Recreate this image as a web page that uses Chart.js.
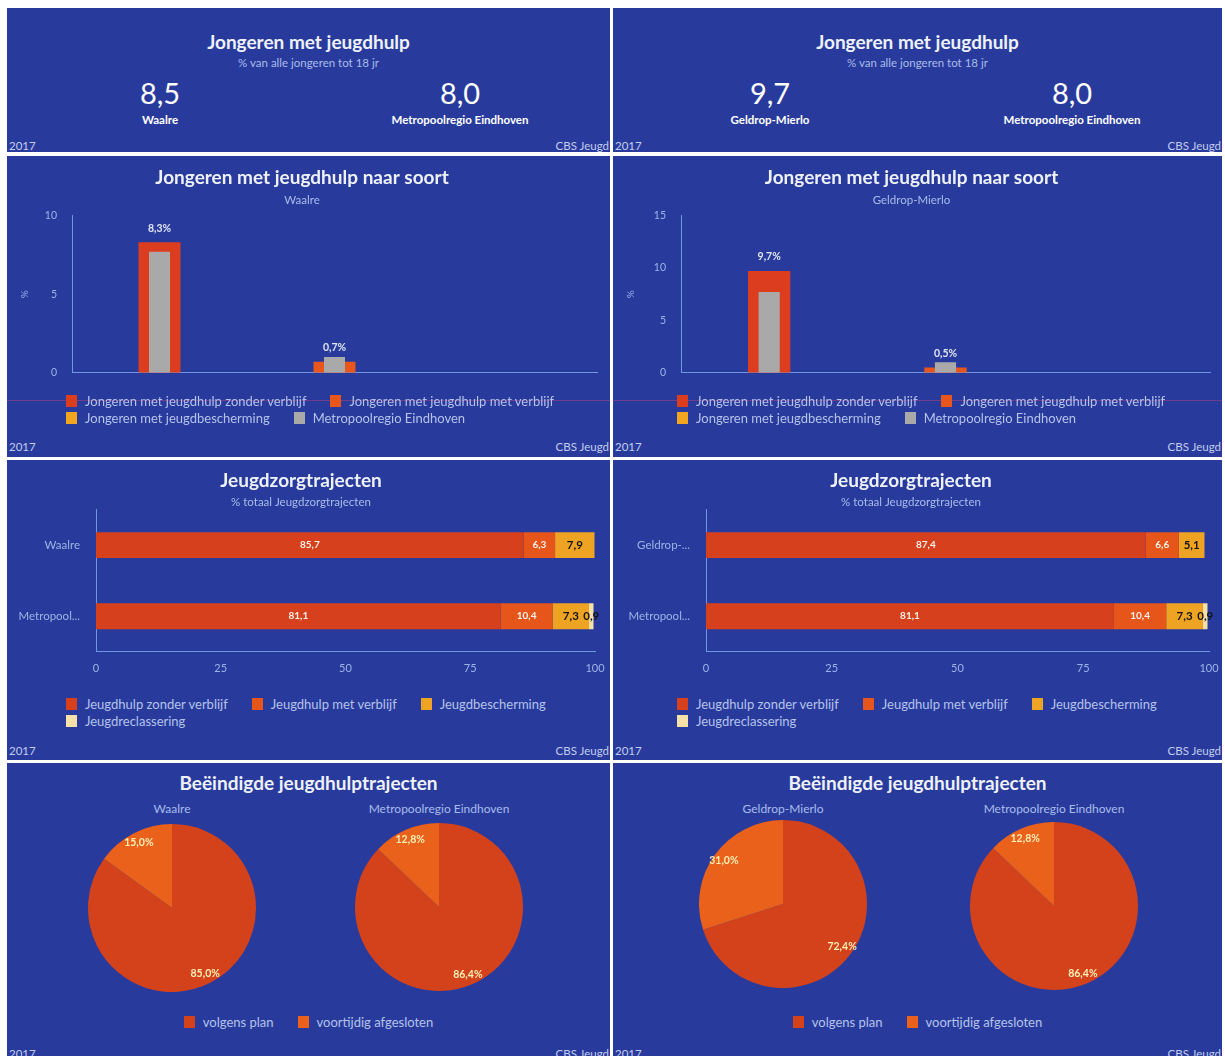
<!DOCTYPE html>
<html lang="nl">
<head>
<meta charset="utf-8">
<title>Jeugdhulp 2017</title>
<script src="https://cdn.jsdelivr.net/npm/chart.js@4.4.1/dist/chart.umd.min.js"></script>
<style>
  html, body { margin: 0; padding: 0; background: #ffffff; }
  body { position: relative; width: 1225px; height: 1056px; overflow: hidden; font-family: Lato, "Open Sans", sans-serif; }
  .panel { position: absolute; background: #283b9d; overflow: hidden; }
  .col0 { left: 7px; width: 603px; }
  .col1 { left: 613px; width: 609px; }
  .kpi { top: 8px; height: 144px; }
  .soort { top: 156px; height: 301px; }
  .traject { top: 460px; height: 300px; }
  .afgesloten { top: 763px; height: 300px; }
  .panel canvas { position: absolute; }
  .title { position: absolute; left: 0; right: 0; text-align: center; color: #eef1fa; font-weight: 700; font-size: 19px; line-height: 22px; white-space: nowrap; }
  .sub { position: absolute; width: 300px; margin-left: -150px; text-align: center; color: #a9bce9; font-size: 11.5px; line-height: 14px; white-space: nowrap; }
  .big { position: absolute; width: 200px; margin-left: -100px; text-align: center; color: #ffffff; font-size: 29px; line-height: 32px; }
  .name { position: absolute; width: 260px; margin-left: -130px; text-align: center; color: #ffffff; font-size: 11.5px; line-height: 14px; font-weight: 700; }
  .foot { position: absolute; top: 284px; color: #c4cced; font-size: 11.5px; line-height: 13px; }
  .kpi .foot { top: 131px; }
  .foot.left { left: 2px; }
  .foot.right { right: 1px; }
  .legend { position: absolute; color: #b5c2ea; font-size: 13px; line-height: 17px; white-space: nowrap; }
  .legend .item { display: inline-block; margin-right: 24px; }
  .legend .item:last-child { margin-right: 0; }
  .legend .box { display: inline-block; width: 11px; height: 12px; margin-right: 8px; vertical-align: -1px; }
  .scanline { position: absolute; left: 0; right: 0; top: 244px; height: 1px; background: rgba(196, 64, 120, 0.45); }
</style>
</head>
<body>
<script>
// gebieden
const areas = ['Waalre', 'Geldrop-Mierlo'];
const region = 'Metropoolregio Eindhoven';

// jongeren met jeugdhulp, % van alle jongeren tot 18 jr
const kpiArea = [8.5, 9.7];
const kpiRegion = 8.0;

// jongeren met jeugdhulp naar soort (%)
const soortSeries = ['Jongeren met jeugdhulp zonder verblijf', 'Jongeren met jeugdhulp met verblijf', 'Jongeren met jeugdbescherming'];
const soortWaalre = [8.3, 0.7, null];
const soortGeldrop = [9.7, 0.5, null];
const soortRegion = [7.7, 1.0, null];
const soortMax = [10, 15];

// jeugdzorgtrajecten (% totaal)
const trajectSeries = ['Jeugdhulp zonder verblijf', 'Jeugdhulp met verblijf', 'Jeugdbescherming', 'Jeugdreclassering'];
const trajectCategories = [['Waalre', 'Metropool...'], ['Geldrop-...', 'Metropool...']];
const trajectWaalre = [85.7, 6.3, 7.9, 0];
const trajectGeldrop = [87.4, 6.6, 5.1, 0];
const trajectRegion = [81.1, 10.4, 7.3, 0.9];
const trajectTicks = [0, 25, 50, 75, 100];

// beeindigde jeugdhulptrajecten (%)
const afgeslotenSeries = ['volgens plan', 'voortijdig afgesloten'];
const afgeslotenWaalre = [85.0, 15.0];
const afgeslotenGeldrop = [72.4, 31.0];
const afgeslotenRegion = [86.4, 12.8];

const soortArea = [soortWaalre, soortGeldrop];
const trajectArea = [trajectWaalre, trajectGeldrop];
const afgeslotenArea = [afgeslotenWaalre, afgeslotenGeldrop];

// kleuren
const titleColor = '#eef1fa';
const subColor = '#a9bce9';
const axisColor = '#6f98e0';
const tickColor = '#9fb3e6';
const soortColors = ['#dc3d1f', '#e8561c', '#f2a51f'];
const regionGrey = '#a9a9aa';
const trajectColors = ['#d6401d', '#e6561b', '#efa323', '#f6e2a8'];
const trajectLabelColors = ['#f6f2ea', '#f6f2ea', '#141414', '#141414'];
const pieColors = ['#d4421c', '#e9611b'];

// plaatsing per kolom
const panelWidth = [603, 609];
const kpiX = [[153, 453], [157, 459]];
const soortYWidth = [65, 68];
const soortRight = [590, 597];
const trajectYWidth = [89, 93];
const trajectRight = [588, 596];
const legendLeft = [59, 64];
const pieCenters = [[[165, 145], [432, 144]], [[170, 141], [441, 143]]];

Chart.defaults.font.family = 'Lato, "Open Sans", sans-serif';
Chart.defaults.animation = false;
Chart.defaults.plugins.legend.display = false;
Chart.defaults.plugins.tooltip.enabled = false;

const nl = v => v.toFixed(1).replace('.', ',');

// waardelabels boven, in of op de elementen
const valueLabels = {
  id: 'valueLabels',
  afterDatasetsDraw(chart) {
    const ctx = chart.ctx;
    ctx.save();
    ctx.textAlign = 'center';
    ctx.textBaseline = 'middle';
    chart.data.datasets.forEach((ds, i) => {
      if (!ds.labelMode) return;
      chart.getDatasetMeta(i).data.forEach((e, j) => {
        const v = ds.data[j];
        if (v == null || v === 0) return;
        let x, y, text = nl(v);
        if (ds.labelMode === 'top') {
          x = e.x; y = e.y - 14; text += '%';
        } else if (ds.labelMode === 'inside') {
          x = (e.x + e.base) / 2; y = e.y;
        } else {
          const mid = (e.startAngle + e.endAngle) / 2;
          const r = e.outerRadius * 0.87;
          x = e.x + Math.cos(mid) * r; y = e.y + Math.sin(mid) * r; text += '%';
        }
        ctx.font = 'bold ' + ds.labelSize + 'px Lato';
        ctx.fillStyle = ds.labelColor;
        ctx.fillText(text, x, y);
      });
    });
    ctx.restore();
  }
};

function add(parent, tag, cls, text) {
  const n = document.createElement(tag);
  if (cls) n.className = cls;
  if (text != null) n.textContent = text;
  parent.appendChild(n);
  return n;
}

function addPanel(c, cls) {
  const p = add(document.body, 'div', 'panel col' + c + ' ' + cls);
  add(p, 'div', 'foot left', '2017');
  add(p, 'div', 'foot right', 'CBS Jeugd');
  return p;
}

function addCanvas(panel, w, h, left, top) {
  const cv = add(panel, 'canvas');
  cv.width = w; cv.height = h;
  cv.style.left = left + 'px'; cv.style.top = top + 'px';
  return cv;
}

function addLegend(panel, names, colors, rows, style) {
  const lg = add(panel, 'div', 'legend');
  Object.assign(lg.style, style);
  rows.forEach(row => {
    const line = add(lg, 'div');
    row.forEach(i => {
      const item = add(line, 'span', 'item');
      add(item, 'span', 'box').style.background = colors[i];
      item.appendChild(document.createTextNode(names[i]));
    });
  });
}

function place(n, x, y) {
  n.style.left = x + 'px';
  n.style.top = y + 'px';
  return n;
}

// geen extra ruimte voor halve tiklabels aan de uiteinden
const noEdgePadding = s => { s.paddingLeft = 0; s.paddingRight = 0; s.paddingTop = 0; s.paddingBottom = 0; };

function kpiPanel(c) {
  const p = addPanel(c, 'kpi');
  place(add(p, 'div', 'title', 'Jongeren met jeugdhulp'), 0, 23);
  place(add(p, 'div', 'sub', '% van alle jongeren tot 18 jr'), panelWidth[c] / 2, 48);
  place(add(p, 'div', 'big', nl(kpiArea[c])), kpiX[c][0], 69);
  place(add(p, 'div', 'name', areas[c]), kpiX[c][0], 105);
  place(add(p, 'div', 'big', nl(kpiRegion)), kpiX[c][1], 69);
  place(add(p, 'div', 'name', region), kpiX[c][1], 105);
}

function soortPanel(c) {
  const p = addPanel(c, 'soort');
  add(p, 'div', 'scanline');
  const w = panelWidth[c];
  const datasets = soortSeries.map((name, i) => ({
    label: name,
    data: soortArea[c].map((v, j) => (j === i ? v : null)),
    backgroundColor: soortColors[i],
    grouped: false,
    categoryPercentage: 0.8,
    barPercentage: 0.3,
    order: 1,
    labelMode: 'top',
    labelSize: 10.5,
    labelColor: '#dfe5f3'
  }));
  datasets.push({
    label: region,
    data: soortRegion,
    backgroundColor: regionGrey,
    grouped: false,
    categoryPercentage: 0.8,
    barPercentage: 0.15,
    order: 0
  });
  new Chart(addCanvas(p, w, 238, 0, 0), {
    type: 'bar',
    data: { labels: soortSeries, datasets: datasets },
    options: {
      responsive: false,
      layout: { padding: { left: 0, right: w - soortRight[c], top: 0, bottom: 0 } },
      plugins: {
        title: { display: true, text: 'Jongeren met jeugdhulp naar soort', color: titleColor, font: { size: 19, weight: 'bold' }, padding: { top: 10, bottom: 0 } },
        subtitle: { display: true, text: areas[c], color: subColor, font: { size: 11.5 }, padding: { top: 5, bottom: 8 } }
      },
      scales: {
        x: {
          ticks: { display: false },
          grid: { display: false, drawTicks: false },
          border: { color: axisColor },
          afterFit: noEdgePadding
        },
        y: {
          min: 0,
          max: soortMax[c],
          ticks: { stepSize: 5, color: tickColor, font: { size: 10.5 }, padding: 15 },
          grid: { display: false, drawTicks: false },
          border: { color: axisColor },
          title: { display: true, text: '%', color: tickColor, font: { size: 10 }, padding: { top: 12, bottom: 0 } },
          afterFit: s => { s.width = soortYWidth[c]; }
        }
      }
    },
    plugins: [valueLabels]
  });
  addLegend(p, soortSeries.concat([region]), soortColors.concat([regionGrey]), [[0, 1], [2, 3]],
    { left: legendLeft[c] + 'px', top: '237px' });
}

function trajectPanel(c) {
  const p = addPanel(c, 'traject');
  const w = panelWidth[c];
  const datasets = trajectSeries.map((name, i) => ({
    label: name,
    data: [trajectArea[c][i], trajectRegion[i]],
    backgroundColor: trajectColors[i],
    categoryPercentage: 0.405,
    barPercentage: 0.9,
    labelMode: 'inside',
    labelSize: i < 2 ? 10 : 11.5,
    labelColor: trajectLabelColors[i]
  }));
  new Chart(addCanvas(p, w, 225, 0, 0), {
    type: 'bar',
    data: { labels: trajectCategories[c], datasets: datasets },
    options: {
      indexAxis: 'y',
      responsive: false,
      layout: { padding: { left: 0, right: w - trajectRight[c], top: 0, bottom: 0 } },
      plugins: {
        title: { display: true, text: 'Jeugdzorgtrajecten', color: titleColor, font: { size: 19, weight: 'bold' }, padding: { top: 9, bottom: 0 } },
        subtitle: { display: true, text: '% totaal Jeugdzorgtrajecten', color: subColor, font: { size: 11.5 }, padding: { top: 4, bottom: 0 } }
      },
      scales: {
        x: {
          stacked: true,
          min: 0,
          max: 100,
          afterBuildTicks: s => { s.ticks = trajectTicks.map(v => ({ value: v })); },
          ticks: { color: tickColor, font: { size: 11 }, padding: 10 },
          grid: { display: false, drawTicks: false },
          border: { color: axisColor },
          afterFit: noEdgePadding
        },
        y: {
          stacked: true,
          ticks: { color: tickColor, font: { size: 11.5 }, padding: 16 },
          grid: { display: false, drawTicks: false },
          border: { color: axisColor },
          afterFit: s => { s.width = trajectYWidth[c]; }
        }
      }
    },
    plugins: [valueLabels]
  });
  addLegend(p, trajectSeries, trajectColors, [[0, 1, 2], [3]],
    { left: legendLeft[c] + 'px', top: '236px' });
}

function afgeslotenPanel(c) {
  const p = addPanel(c, 'afgesloten');
  place(add(p, 'div', 'title', 'Beëindigde jeugdhulptrajecten'), 0, 9);
  const names = [areas[c], region];
  const values = [afgeslotenArea[c], afgeslotenRegion];
  const size = 168;
  names.forEach((name, k) => {
    const [cx, cy] = pieCenters[c][k];
    const sub = place(add(p, 'div', 'sub', name), cx, 39);
    sub.style.fontSize = '12px';
    new Chart(addCanvas(p, size, size, cx - size / 2, cy - size / 2), {
      type: 'pie',
      data: {
        labels: afgeslotenSeries,
        datasets: [{
          data: values[k],
          backgroundColor: pieColors,
          borderWidth: 0,
          labelMode: 'pie',
          labelSize: 10.5,
          labelColor: '#fbefb4'
        }]
      },
      options: { responsive: false, layout: { padding: 0 } },
      plugins: [valueLabels]
    });
  });
  addLegend(p, afgeslotenSeries, pieColors, [[0, 1]],
    { left: '0', right: '0', textAlign: 'center', top: '251px' });
}

[0, 1].forEach(c => {
  kpiPanel(c);
  soortPanel(c);
  trajectPanel(c);
  afgeslotenPanel(c);
});
</script>
</body>
</html>
